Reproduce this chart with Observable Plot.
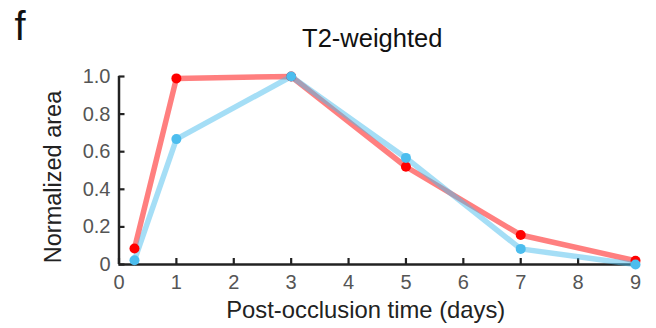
<!DOCTYPE html>
<html><head><meta charset="utf-8">
<script src="https://cdn.jsdelivr.net/npm/d3@7"></script>
<script src="https://cdn.jsdelivr.net/npm/@observablehq/plot@0.6"></script>
<style>body{margin:0;background:#fff;font-family:"Liberation Sans",Arial,sans-serif}</style>
</head><body><div id="chart"></div>
<script>
const days = [0.27, 1, 3, 5, 7, 9];
const redValues = [0.085, 0.99, 1.0, 0.52, 0.157, 0.02];
const blueValues = [0.023, 0.667, 1.0, 0.567, 0.083, 0.0];
const xTicks = [0,1,2,3,4,5,6,7,8,9];
const yTicks = [0,0.2,0.4,0.6,0.8,1.0];
const yTickLabels = ["0","0.2","0.4","0.6","0.8","1.0"];

const red = days.map((d,i)=>({day:d, v:redValues[i]}));
const blue = days.map((d,i)=>({day:d, v:blueValues[i]}));

const chart = Plot.plot({
  width: 656, height: 328,
  marginLeft: 118.5, marginRight: 21, marginTop: 76, marginBottom: 64,
  style: {fontFamily: '"Liberation Sans", Arial, sans-serif', background: "white", fontSize: "20px"},
  x: {domain: [0, 9]},
  y: {domain: [0, 1]},
  marks: [
    Plot.ruleY([0], {x1: 0, x2: 9, stroke: "#222", strokeWidth: 2.5}),
    Plot.ruleX([0], {y1: 0, y2: 1, stroke: "#222", strokeWidth: 2.5}),
    Plot.axisX({ticks: xTicks, tickSize: -6, tickPadding: 16, stroke: "#222", strokeWidth: 2.2, strokeOpacity: 1, fill: "#555", fontSize: 20, label: null, tickFormat: d=>String(d)}),
    Plot.axisY({ticks: yTicks, tickSize: -6, tickPadding: 14.5, stroke: "#222", strokeWidth: 2.2, strokeOpacity: 1, fill: "#555", fontSize: 20, label: null, tickFormat: (d,i)=>yTickLabels[i]}),
    Plot.line(red, {x: "day", y: "v", stroke: "#ff0000", strokeOpacity: 0.5, strokeWidth: 5.5}),
    Plot.line(blue, {x: "day", y: "v", stroke: "#4cbdee", strokeOpacity: 0.5, strokeWidth: 5.5}),
    Plot.dot(red, {x: "day", y: "v", r: 5, fill: "#ff0000"}),
    Plot.dot(blue, {x: "day", y: "v", r: 5, fill: "#4cbdee"}),
    Plot.text(["T2-weighted"], {frameAnchor: "top", lineAnchor: "middle", text: d=>d, dy: -37.5, dx: -5, fontSize: 25.5, fill: "#111"}),
    Plot.text(["Post-occlusion time (days)"], {frameAnchor: "bottom", lineAnchor: "middle", text: d=>d, dy: 46, dx: -11.5, fontSize: 23.8, fill: "#222"}),
    Plot.text(["Normalized area"], {frameAnchor: "left", lineAnchor: "middle", textAnchor: "middle", text: d=>d, dx: -65.5, dy: 6.5, rotate: -90, fontSize: 23.5, fill: "#222"}),
    Plot.text(["f"], {frameAnchor: "top-left", lineAnchor: "middle", text: d=>d, dx: -104.5, dy: -49, fontSize: 40, fill: "#111", textAnchor: "start"})
  ]
});
document.getElementById("chart").append(chart);
</script></body></html>
